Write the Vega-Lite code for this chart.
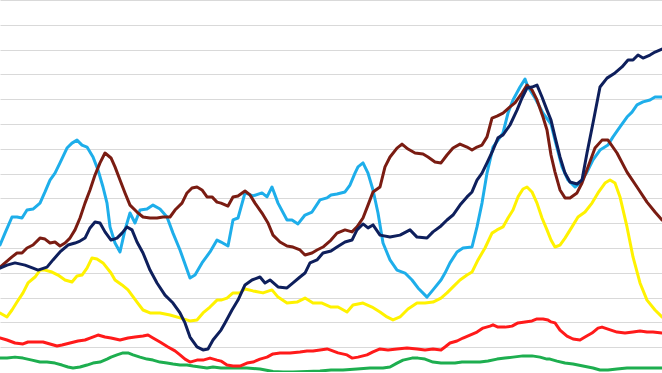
{
"$schema":"https://vega.github.io/schema/vega-lite/v6.json",
"width":662,"height":372,"autosize":{"type":"none"},"padding":0,"background":"white",
"config":{"view":{"stroke":null}},
"data":{"values":[
{"s":"Green","t":0,"v":0.56},{"s":"Green","t":0.7,"v":0.56},{"s":"Green","t":1.5,"v":0.6},{"s":"Green","t":2.3,"v":0.56},{"s":"Green","t":3.2,"v":0.48},{"s":"Green","t":4.0,"v":0.4},{"s":"Green","t":4.7,"v":0.4},{"s":"Green","t":5.5,"v":0.36},{"s":"Green","t":6.2,"v":0.28},{"s":"Green","t":6.8,"v":0.2},{"s":"Green","t":7.3,"v":0.16},{"s":"Green","t":8.0,"v":0.2},{"s":"Green","t":8.7,"v":0.28},{"s":"Green","t":9.3,"v":0.36},{"s":"Green","t":10.0,"v":0.4},{"s":"Green","t":10.7,"v":0.52},{"s":"Green","t":11.1,"v":0.6},{"s":"Green","t":11.7,"v":0.69},{"s":"Green","t":12.3,"v":0.77},{"s":"Green","t":12.8,"v":0.77},{"s":"Green","t":13.3,"v":0.69},{"s":"Green","t":14.0,"v":0.6},{"s":"Green","t":14.7,"v":0.52},{"s":"Green","t":15.3,"v":0.48},{"s":"Green","t":16.0,"v":0.4},{"s":"Green","t":16.7,"v":0.36},{"s":"Green","t":17.3,"v":0.32},{"s":"Green","t":18.0,"v":0.28},{"s":"Green","t":18.7,"v":0.28},{"s":"Green","t":19.3,"v":0.24},{"s":"Green","t":20.0,"v":0.2},{"s":"Green","t":20.7,"v":0.16},{"s":"Green","t":21.3,"v":0.2},{"s":"Green","t":22.1,"v":0.16},{"s":"Green","t":23.3,"v":0.16},{"s":"Green","t":24.7,"v":0.16},{"s":"Green","t":26.0,"v":0.12},{"s":"Green","t":27.3,"v":0.02},{"s":"Green","t":28.3,"v":0.0},{"s":"Green","t":29.3,"v":0.0},{"s":"Green","t":30.7,"v":0.02},{"s":"Green","t":32.0,"v":0.04},{"s":"Green","t":33.1,"v":0.08},{"s":"Green","t":34.3,"v":0.08},{"s":"Green","t":35.7,"v":0.12},{"s":"Green","t":37.0,"v":0.16},{"s":"Green","t":38.3,"v":0.16},{"s":"Green","t":39.0,"v":0.2},{"s":"Green","t":39.7,"v":0.36},{"s":"Green","t":40.3,"v":0.48},{"s":"Green","t":41.2,"v":0.56},{"s":"Green","t":41.8,"v":0.56},{"s":"Green","t":42.5,"v":0.52},{"s":"Green","t":43.3,"v":0.4},{"s":"Green","t":44.1,"v":0.36},{"s":"Green","t":44.7,"v":0.36},{"s":"Green","t":45.5,"v":0.36},{"s":"Green","t":46.2,"v":0.4},{"s":"Green","t":47.0,"v":0.4},{"s":"Green","t":48.0,"v":0.4},{"s":"Green","t":48.8,"v":0.44},{"s":"Green","t":49.7,"v":0.52},{"s":"Green","t":50.5,"v":0.56},{"s":"Green","t":51.3,"v":0.6},{"s":"Green","t":52.3,"v":0.65},{"s":"Green","t":53.2,"v":0.65},{"s":"Green","t":54.0,"v":0.6},{"s":"Green","t":54.7,"v":0.52},{"s":"Green","t":55.0,"v":0.52},{"s":"Green","t":55.7,"v":0.44},{"s":"Green","t":56.5,"v":0.36},{"s":"Green","t":57.3,"v":0.32},{"s":"Green","t":58.3,"v":0.24},{"s":"Green","t":59.3,"v":0.16},{"s":"Green","t":60.0,"v":0.08},{"s":"Green","t":60.8,"v":0.08},{"s":"Green","t":61.7,"v":0.12},{"s":"Green","t":62.7,"v":0.16},{"s":"Green","t":63.7,"v":0.16},{"s":"Green","t":64.7,"v":0.16},{"s":"Green","t":65.5,"v":0.16},{"s":"Green","t":66.2,"v":0.16},
{"s":"Red","t":0,"v":1.37},{"s":"Red","t":0.7,"v":1.29},{"s":"Red","t":1.5,"v":1.17},{"s":"Red","t":2.3,"v":1.13},{"s":"Red","t":2.8,"v":1.21},{"s":"Red","t":3.7,"v":1.21},{"s":"Red","t":4.3,"v":1.21},{"s":"Red","t":5.0,"v":1.13},{"s":"Red","t":5.7,"v":1.05},{"s":"Red","t":6.2,"v":1.09},{"s":"Red","t":7.0,"v":1.17},{"s":"Red","t":7.8,"v":1.25},{"s":"Red","t":8.5,"v":1.29},{"s":"Red","t":9.0,"v":1.37},{"s":"Red","t":9.8,"v":1.49},{"s":"Red","t":10.5,"v":1.41},{"s":"Red","t":11.1,"v":1.37},{"s":"Red","t":12.0,"v":1.29},{"s":"Red","t":12.8,"v":1.37},{"s":"Red","t":13.5,"v":1.41},{"s":"Red","t":14.3,"v":1.45},{"s":"Red","t":14.8,"v":1.49},{"s":"Red","t":15.3,"v":1.37},{"s":"Red","t":16.0,"v":1.21},{"s":"Red","t":16.8,"v":1.01},{"s":"Red","t":17.5,"v":0.85},{"s":"Red","t":18.0,"v":0.69},{"s":"Red","t":18.5,"v":0.52},{"s":"Red","t":19.0,"v":0.4},{"s":"Red","t":19.7,"v":0.48},{"s":"Red","t":20.3,"v":0.48},{"s":"Red","t":21.0,"v":0.56},{"s":"Red","t":21.7,"v":0.48},{"s":"Red","t":22.1,"v":0.44},{"s":"Red","t":22.7,"v":0.28},{"s":"Red","t":23.3,"v":0.24},{"s":"Red","t":24.0,"v":0.24},{"s":"Red","t":24.7,"v":0.36},{"s":"Red","t":25.3,"v":0.4},{"s":"Red","t":26.0,"v":0.52},{"s":"Red","t":26.7,"v":0.6},{"s":"Red","t":27.3,"v":0.73},{"s":"Red","t":28.0,"v":0.77},{"s":"Red","t":29.0,"v":0.77},{"s":"Red","t":30.0,"v":0.81},{"s":"Red","t":30.7,"v":0.85},{"s":"Red","t":31.3,"v":0.85},{"s":"Red","t":32.0,"v":0.89},{"s":"Red","t":32.7,"v":0.93},{"s":"Red","t":33.0,"v":0.89},{"s":"Red","t":33.8,"v":0.77},{"s":"Red","t":34.7,"v":0.69},{"s":"Red","t":35.2,"v":0.56},{"s":"Red","t":35.8,"v":0.6},{"s":"Red","t":36.7,"v":0.69},{"s":"Red","t":37.3,"v":0.81},{"s":"Red","t":38.0,"v":0.93},{"s":"Red","t":38.8,"v":0.89},{"s":"Red","t":39.7,"v":0.93},{"s":"Red","t":40.7,"v":0.97},{"s":"Red","t":41.7,"v":0.93},{"s":"Red","t":42.5,"v":0.89},{"s":"Red","t":43.3,"v":0.93},{"s":"Red","t":44.1,"v":0.89},{"s":"Red","t":44.5,"v":1.01},{"s":"Red","t":45.0,"v":1.17},{"s":"Red","t":45.7,"v":1.25},{"s":"Red","t":46.3,"v":1.37},{"s":"Red","t":47.0,"v":1.49},{"s":"Red","t":47.7,"v":1.61},{"s":"Red","t":48.3,"v":1.77},{"s":"Red","t":49.0,"v":1.85},{"s":"Red","t":49.3,"v":1.9},{"s":"Red","t":49.8,"v":1.81},{"s":"Red","t":50.5,"v":1.81},{"s":"Red","t":51.2,"v":1.85},{"s":"Red","t":51.8,"v":1.98},{"s":"Red","t":52.5,"v":2.02},{"s":"Red","t":53.2,"v":2.06},{"s":"Red","t":53.7,"v":2.14},{"s":"Red","t":54.3,"v":2.14},{"s":"Red","t":54.8,"v":2.1},{"s":"Red","t":55.1,"v":2.02},{"s":"Red","t":55.5,"v":1.98},{"s":"Red","t":56.0,"v":1.69},{"s":"Red","t":56.7,"v":1.45},{"s":"Red","t":57.3,"v":1.33},{"s":"Red","t":58.0,"v":1.29},{"s":"Red","t":58.5,"v":1.41},{"s":"Red","t":59.2,"v":1.57},{"s":"Red","t":59.8,"v":1.77},{"s":"Red","t":60.2,"v":1.81},{"s":"Red","t":60.8,"v":1.73},{"s":"Red","t":61.7,"v":1.61},{"s":"Red","t":62.5,"v":1.57},{"s":"Red","t":63.3,"v":1.61},{"s":"Red","t":64.0,"v":1.65},{"s":"Red","t":64.7,"v":1.61},{"s":"Red","t":65.3,"v":1.61},{"s":"Red","t":66.2,"v":1.57},
{"s":"Yellow","t":0,"v":2.38},{"s":"Yellow","t":0.7,"v":2.22},{"s":"Yellow","t":1.2,"v":2.5},{"s":"Yellow","t":1.7,"v":2.82},{"s":"Yellow","t":2.3,"v":3.19},{"s":"Yellow","t":2.8,"v":3.59},{"s":"Yellow","t":3.5,"v":3.83},{"s":"Yellow","t":4.0,"v":4.11},{"s":"Yellow","t":4.5,"v":4.11},{"s":"Yellow","t":5.2,"v":4.03},{"s":"Yellow","t":5.8,"v":3.91},{"s":"Yellow","t":6.5,"v":3.71},{"s":"Yellow","t":7.2,"v":3.63},{"s":"Yellow","t":7.7,"v":3.87},{"s":"Yellow","t":8.2,"v":3.91},{"s":"Yellow","t":8.7,"v":4.19},{"s":"Yellow","t":9.2,"v":4.6},{"s":"Yellow","t":9.7,"v":4.56},{"s":"Yellow","t":10.3,"v":4.4},{"s":"Yellow","t":11.1,"v":3.99},{"s":"Yellow","t":11.5,"v":3.71},{"s":"Yellow","t":12.2,"v":3.51},{"s":"Yellow","t":12.8,"v":3.31},{"s":"Yellow","t":13.7,"v":2.82},{"s":"Yellow","t":14.3,"v":2.5},{"s":"Yellow","t":15.0,"v":2.38},{"s":"Yellow","t":16.0,"v":2.38},{"s":"Yellow","t":17.0,"v":2.3},{"s":"Yellow","t":18.0,"v":2.18},{"s":"Yellow","t":19.0,"v":2.06},{"s":"Yellow","t":19.7,"v":2.1},{"s":"Yellow","t":20.3,"v":2.38},{"s":"Yellow","t":21.0,"v":2.62},{"s":"Yellow","t":21.7,"v":2.9},{"s":"Yellow","t":22.1,"v":2.9},{"s":"Yellow","t":22.7,"v":2.98},{"s":"Yellow","t":23.3,"v":3.19},{"s":"Yellow","t":24.0,"v":3.19},{"s":"Yellow","t":24.5,"v":3.35},{"s":"Yellow","t":25.3,"v":3.27},{"s":"Yellow","t":26.3,"v":3.19},{"s":"Yellow","t":27.2,"v":3.31},{"s":"Yellow","t":27.8,"v":3.02},{"s":"Yellow","t":28.7,"v":2.78},{"s":"Yellow","t":29.7,"v":2.82},{"s":"Yellow","t":30.5,"v":2.98},{"s":"Yellow","t":31.3,"v":2.78},{"s":"Yellow","t":32.2,"v":2.78},{"s":"Yellow","t":33.1,"v":2.62},{"s":"Yellow","t":33.8,"v":2.62},{"s":"Yellow","t":34.7,"v":2.42},{"s":"Yellow","t":35.3,"v":2.7},{"s":"Yellow","t":36.3,"v":2.78},{"s":"Yellow","t":37.2,"v":2.62},{"s":"Yellow","t":38.0,"v":2.42},{"s":"Yellow","t":38.7,"v":2.22},{"s":"Yellow","t":39.3,"v":2.1},{"s":"Yellow","t":40.0,"v":2.22},{"s":"Yellow","t":40.8,"v":2.54},{"s":"Yellow","t":41.7,"v":2.78},{"s":"Yellow","t":42.5,"v":2.78},{"s":"Yellow","t":43.3,"v":2.82},{"s":"Yellow","t":44.1,"v":2.98},{"s":"Yellow","t":44.7,"v":3.19},{"s":"Yellow","t":45.3,"v":3.43},{"s":"Yellow","t":46.0,"v":3.71},{"s":"Yellow","t":46.7,"v":3.91},{"s":"Yellow","t":47.2,"v":4.03},{"s":"Yellow","t":47.8,"v":4.52},{"s":"Yellow","t":48.5,"v":5.0},{"s":"Yellow","t":49.2,"v":5.6},{"s":"Yellow","t":49.7,"v":5.73},{"s":"Yellow","t":50.3,"v":5.85},{"s":"Yellow","t":50.8,"v":6.21},{"s":"Yellow","t":51.3,"v":6.53},{"s":"Yellow","t":51.8,"v":7.06},{"s":"Yellow","t":52.3,"v":7.38},{"s":"Yellow","t":52.7,"v":7.46},{"s":"Yellow","t":53.2,"v":7.26},{"s":"Yellow","t":53.7,"v":6.81},{"s":"Yellow","t":54.2,"v":6.21},{"s":"Yellow","t":54.7,"v":5.73},{"s":"Yellow","t":55.1,"v":5.32},{"s":"Yellow","t":55.5,"v":5.04},{"s":"Yellow","t":56.0,"v":5.12},{"s":"Yellow","t":56.5,"v":5.4},{"s":"Yellow","t":57.2,"v":5.85},{"s":"Yellow","t":57.8,"v":6.25},{"s":"Yellow","t":58.5,"v":6.45},{"s":"Yellow","t":59.2,"v":6.81},{"s":"Yellow","t":59.8,"v":7.22},{"s":"Yellow","t":60.5,"v":7.62},{"s":"Yellow","t":61.0,"v":7.74},{"s":"Yellow","t":61.5,"v":7.62},{"s":"Yellow","t":62.0,"v":7.06},{"s":"Yellow","t":62.7,"v":5.85},{"s":"Yellow","t":63.3,"v":4.64},{"s":"Yellow","t":64.0,"v":3.59},{"s":"Yellow","t":64.7,"v":2.9},{"s":"Yellow","t":65.5,"v":2.5},{"s":"Yellow","t":66.2,"v":2.22},
{"s":"Light blue","t":0,"v":5.12},{"s":"Light blue","t":0.5,"v":5.6},{"s":"Light blue","t":1.2,"v":6.25},{"s":"Light blue","t":1.7,"v":6.25},{"s":"Light blue","t":2.2,"v":6.21},{"s":"Light blue","t":2.7,"v":6.53},{"s":"Light blue","t":3.3,"v":6.57},{"s":"Light blue","t":4.0,"v":6.81},{"s":"Light blue","t":4.5,"v":7.26},{"s":"Light blue","t":5.0,"v":7.74},{"s":"Light blue","t":5.5,"v":8.02},{"s":"Light blue","t":6.0,"v":8.43},{"s":"Light blue","t":6.7,"v":9.03},{"s":"Light blue","t":7.2,"v":9.23},{"s":"Light blue","t":7.7,"v":9.35},{"s":"Light blue","t":8.2,"v":9.15},{"s":"Light blue","t":8.7,"v":9.07},{"s":"Light blue","t":9.3,"v":8.67},{"s":"Light blue","t":9.8,"v":8.15},{"s":"Light blue","t":10.3,"v":7.46},{"s":"Light blue","t":10.7,"v":6.81},{"s":"Light blue","t":11.0,"v":5.85},{"s":"Light blue","t":11.5,"v":5.2},{"s":"Light blue","t":12.0,"v":4.84},{"s":"Light blue","t":12.5,"v":5.73},{"s":"Light blue","t":13.0,"v":6.41},{"s":"Light blue","t":13.5,"v":6.01},{"s":"Light blue","t":14.0,"v":6.53},{"s":"Light blue","t":14.7,"v":6.57},{"s":"Light blue","t":15.3,"v":6.73},{"s":"Light blue","t":16.0,"v":6.57},{"s":"Light blue","t":16.7,"v":6.25},{"s":"Light blue","t":17.3,"v":5.6},{"s":"Light blue","t":18.0,"v":4.92},{"s":"Light blue","t":19.0,"v":3.79},{"s":"Light blue","t":19.5,"v":3.91},{"s":"Light blue","t":20.2,"v":4.4},{"s":"Light blue","t":21.0,"v":4.84},{"s":"Light blue","t":21.7,"v":5.32},{"s":"Light blue","t":22.1,"v":5.24},{"s":"Light blue","t":22.8,"v":5.08},{"s":"Light blue","t":23.3,"v":6.13},{"s":"Light blue","t":23.8,"v":6.21},{"s":"Light blue","t":24.5,"v":7.22},{"s":"Light blue","t":25.3,"v":7.1},{"s":"Light blue","t":26.2,"v":7.22},{"s":"Light blue","t":26.7,"v":7.06},{"s":"Light blue","t":27.2,"v":7.46},{"s":"Light blue","t":27.8,"v":6.81},{"s":"Light blue","t":28.7,"v":6.13},{"s":"Light blue","t":29.2,"v":6.13},{"s":"Light blue","t":29.8,"v":5.97},{"s":"Light blue","t":30.5,"v":6.33},{"s":"Light blue","t":31.2,"v":6.45},{"s":"Light blue","t":32.0,"v":6.94},{"s":"Light blue","t":32.7,"v":7.02},{"s":"Light blue","t":33.1,"v":7.14},{"s":"Light blue","t":33.7,"v":7.18},{"s":"Light blue","t":34.5,"v":7.26},{"s":"Light blue","t":35.0,"v":7.54},{"s":"Light blue","t":35.5,"v":8.02},{"s":"Light blue","t":35.8,"v":8.27},{"s":"Light blue","t":36.3,"v":8.43},{"s":"Light blue","t":36.8,"v":8.02},{"s":"Light blue","t":37.3,"v":7.34},{"s":"Light blue","t":37.8,"v":6.41},{"s":"Light blue","t":38.3,"v":5.2},{"s":"Light blue","t":39.0,"v":4.52},{"s":"Light blue","t":39.7,"v":4.11},{"s":"Light blue","t":40.5,"v":3.99},{"s":"Light blue","t":41.2,"v":3.71},{"s":"Light blue","t":41.8,"v":3.39},{"s":"Light blue","t":42.7,"v":3.02},{"s":"Light blue","t":43.3,"v":3.31},{"s":"Light blue","t":44.1,"v":3.71},{"s":"Light blue","t":44.5,"v":3.99},{"s":"Light blue","t":45.0,"v":4.4},{"s":"Light blue","t":45.7,"v":4.84},{"s":"Light blue","t":46.3,"v":5.0},{"s":"Light blue","t":47.2,"v":5.04},{"s":"Light blue","t":47.7,"v":5.85},{"s":"Light blue","t":48.2,"v":6.81},{"s":"Light blue","t":48.7,"v":8.02},{"s":"Light blue","t":49.3,"v":9.07},{"s":"Light blue","t":49.8,"v":9.35},{"s":"Light blue","t":50.3,"v":9.64},{"s":"Light blue","t":50.8,"v":10.44},{"s":"Light blue","t":51.3,"v":10.97},{"s":"Light blue","t":52.0,"v":11.49},{"s":"Light blue","t":52.5,"v":11.81},{"s":"Light blue","t":52.8,"v":11.49},{"s":"Light blue","t":53.5,"v":11.05},{"s":"Light blue","t":54.3,"v":10.44},{"s":"Light blue","t":55.1,"v":10.0},{"s":"Light blue","t":55.5,"v":9.35},{"s":"Light blue","t":56.2,"v":8.27},{"s":"Light blue","t":56.8,"v":7.74},{"s":"Light blue","t":57.5,"v":7.46},{"s":"Light blue","t":58.0,"v":7.62},{"s":"Light blue","t":58.7,"v":8.06},{"s":"Light blue","t":59.3,"v":8.55},{"s":"Light blue","t":60.0,"v":8.95},{"s":"Light blue","t":60.8,"v":9.15},{"s":"Light blue","t":61.3,"v":9.48},{"s":"Light blue","t":62.0,"v":9.88},{"s":"Light blue","t":62.7,"v":10.28},{"s":"Light blue","t":63.2,"v":10.48},{"s":"Light blue","t":63.7,"v":10.77},{"s":"Light blue","t":64.3,"v":10.89},{"s":"Light blue","t":65.0,"v":10.97},{"s":"Light blue","t":65.5,"v":11.09},{"s":"Light blue","t":66.2,"v":11.09},
{"s":"Dark red","t":0,"v":4.23},{"s":"Dark red","t":0.5,"v":4.4},{"s":"Dark red","t":1.2,"v":4.64},{"s":"Dark red","t":1.7,"v":4.8},{"s":"Dark red","t":2.2,"v":4.8},{"s":"Dark red","t":2.7,"v":5.0},{"s":"Dark red","t":3.3,"v":5.12},{"s":"Dark red","t":4.0,"v":5.4},{"s":"Dark red","t":4.5,"v":5.36},{"s":"Dark red","t":5.0,"v":5.2},{"s":"Dark red","t":5.5,"v":5.24},{"s":"Dark red","t":6.0,"v":5.08},{"s":"Dark red","t":6.5,"v":5.2},{"s":"Dark red","t":7.0,"v":5.4},{"s":"Dark red","t":7.5,"v":5.73},{"s":"Dark red","t":8.0,"v":6.21},{"s":"Dark red","t":8.5,"v":6.81},{"s":"Dark red","t":9.0,"v":7.34},{"s":"Dark red","t":9.5,"v":7.94},{"s":"Dark red","t":10.0,"v":8.43},{"s":"Dark red","t":10.5,"v":8.83},{"s":"Dark red","t":11.1,"v":8.63},{"s":"Dark red","t":11.5,"v":8.27},{"s":"Dark red","t":12.0,"v":7.74},{"s":"Dark red","t":12.5,"v":7.22},{"s":"Dark red","t":13.0,"v":6.73},{"s":"Dark red","t":13.7,"v":6.45},{"s":"Dark red","t":14.3,"v":6.25},{"s":"Dark red","t":15.0,"v":6.21},{"s":"Dark red","t":15.7,"v":6.21},{"s":"Dark red","t":16.3,"v":6.25},{"s":"Dark red","t":17.0,"v":6.25},{"s":"Dark red","t":17.5,"v":6.53},{"s":"Dark red","t":18.2,"v":6.81},{"s":"Dark red","t":18.7,"v":7.22},{"s":"Dark red","t":19.2,"v":7.42},{"s":"Dark red","t":19.7,"v":7.46},{"s":"Dark red","t":20.2,"v":7.34},{"s":"Dark red","t":20.7,"v":7.06},{"s":"Dark red","t":21.2,"v":7.06},{"s":"Dark red","t":21.7,"v":6.85},{"s":"Dark red","t":22.1,"v":6.81},{"s":"Dark red","t":22.8,"v":6.69},{"s":"Dark red","t":23.3,"v":7.06},{"s":"Dark red","t":23.8,"v":7.1},{"s":"Dark red","t":24.5,"v":7.3},{"s":"Dark red","t":25.0,"v":7.14},{"s":"Dark red","t":25.5,"v":6.81},{"s":"Dark red","t":26.2,"v":6.41},{"s":"Dark red","t":26.8,"v":6.01},{"s":"Dark red","t":27.3,"v":5.52},{"s":"Dark red","t":28.0,"v":5.24},{"s":"Dark red","t":28.7,"v":5.08},{"s":"Dark red","t":29.3,"v":5.04},{"s":"Dark red","t":30.0,"v":4.92},{"s":"Dark red","t":30.5,"v":4.72},{"s":"Dark red","t":31.2,"v":4.8},{"s":"Dark red","t":31.7,"v":4.92},{"s":"Dark red","t":32.3,"v":5.04},{"s":"Dark red","t":33.1,"v":5.32},{"s":"Dark red","t":33.7,"v":5.6},{"s":"Dark red","t":34.5,"v":5.73},{"s":"Dark red","t":35.2,"v":5.65},{"s":"Dark red","t":35.7,"v":5.85},{"s":"Dark red","t":36.3,"v":6.21},{"s":"Dark red","t":36.8,"v":6.73},{"s":"Dark red","t":37.3,"v":7.26},{"s":"Dark red","t":38.0,"v":7.46},{"s":"Dark red","t":38.5,"v":8.27},{"s":"Dark red","t":39.0,"v":8.67},{"s":"Dark red","t":39.7,"v":9.03},{"s":"Dark red","t":40.2,"v":9.19},{"s":"Dark red","t":40.8,"v":8.99},{"s":"Dark red","t":41.5,"v":8.83},{"s":"Dark red","t":42.3,"v":8.79},{"s":"Dark red","t":42.8,"v":8.67},{"s":"Dark red","t":43.5,"v":8.47},{"s":"Dark red","t":44.1,"v":8.43},{"s":"Dark red","t":44.7,"v":8.75},{"s":"Dark red","t":45.3,"v":9.03},{"s":"Dark red","t":46.0,"v":9.19},{"s":"Dark red","t":46.7,"v":9.07},{"s":"Dark red","t":47.2,"v":8.95},{"s":"Dark red","t":47.7,"v":9.07},{"s":"Dark red","t":48.2,"v":9.15},{"s":"Dark red","t":48.7,"v":9.48},{"s":"Dark red","t":49.2,"v":10.24},{"s":"Dark red","t":49.7,"v":10.32},{"s":"Dark red","t":50.3,"v":10.44},{"s":"Dark red","t":51.0,"v":10.69},{"s":"Dark red","t":51.5,"v":10.85},{"s":"Dark red","t":52.2,"v":11.25},{"s":"Dark red","t":52.7,"v":11.57},{"s":"Dark red","t":53.2,"v":11.37},{"s":"Dark red","t":53.7,"v":10.97},{"s":"Dark red","t":54.3,"v":10.28},{"s":"Dark red","t":54.7,"v":9.76},{"s":"Dark red","t":55.1,"v":8.75},{"s":"Dark red","t":55.5,"v":8.06},{"s":"Dark red","t":56.0,"v":7.34},{"s":"Dark red","t":56.5,"v":7.02},{"s":"Dark red","t":57.0,"v":7.02},{"s":"Dark red","t":57.7,"v":7.22},{"s":"Dark red","t":58.2,"v":7.62},{"s":"Dark red","t":58.8,"v":8.27},{"s":"Dark red","t":59.5,"v":9.03},{"s":"Dark red","t":60.2,"v":9.35},{"s":"Dark red","t":60.8,"v":9.35},{"s":"Dark red","t":61.7,"v":8.83},{"s":"Dark red","t":62.7,"v":8.06},{"s":"Dark red","t":63.7,"v":7.46},{"s":"Dark red","t":64.7,"v":6.85},{"s":"Dark red","t":65.5,"v":6.45},{"s":"Dark red","t":66.2,"v":6.13},
{"s":"Dark blue","t":0,"v":4.19},{"s":"Dark blue","t":0.7,"v":4.31},{"s":"Dark blue","t":1.5,"v":4.4},{"s":"Dark blue","t":2.5,"v":4.31},{"s":"Dark blue","t":3.3,"v":4.19},{"s":"Dark blue","t":3.8,"v":4.11},{"s":"Dark blue","t":4.7,"v":4.23},{"s":"Dark blue","t":5.3,"v":4.52},{"s":"Dark blue","t":6.0,"v":4.84},{"s":"Dark blue","t":6.8,"v":5.12},{"s":"Dark blue","t":7.5,"v":5.2},{"s":"Dark blue","t":8.0,"v":5.28},{"s":"Dark blue","t":8.5,"v":5.4},{"s":"Dark blue","t":9.0,"v":5.81},{"s":"Dark blue","t":9.5,"v":6.05},{"s":"Dark blue","t":10.0,"v":6.01},{"s":"Dark blue","t":10.5,"v":5.65},{"s":"Dark blue","t":11.1,"v":5.32},{"s":"Dark blue","t":11.7,"v":5.4},{"s":"Dark blue","t":12.2,"v":5.6},{"s":"Dark blue","t":12.7,"v":5.85},{"s":"Dark blue","t":13.2,"v":5.73},{"s":"Dark blue","t":13.7,"v":5.24},{"s":"Dark blue","t":14.3,"v":4.8},{"s":"Dark blue","t":15.0,"v":4.11},{"s":"Dark blue","t":15.7,"v":3.59},{"s":"Dark blue","t":16.5,"v":3.1},{"s":"Dark blue","t":17.3,"v":2.78},{"s":"Dark blue","t":18.0,"v":2.38},{"s":"Dark blue","t":18.5,"v":1.98},{"s":"Dark blue","t":19.0,"v":1.41},{"s":"Dark blue","t":19.7,"v":1.01},{"s":"Dark blue","t":20.3,"v":0.89},{"s":"Dark blue","t":20.8,"v":0.93},{"s":"Dark blue","t":21.3,"v":1.29},{"s":"Dark blue","t":22.1,"v":1.69},{"s":"Dark blue","t":22.5,"v":1.98},{"s":"Dark blue","t":23.2,"v":2.5},{"s":"Dark blue","t":23.8,"v":2.9},{"s":"Dark blue","t":24.5,"v":3.51},{"s":"Dark blue","t":25.2,"v":3.71},{"s":"Dark blue","t":26.0,"v":3.83},{"s":"Dark blue","t":26.5,"v":3.59},{"s":"Dark blue","t":27.0,"v":3.71},{"s":"Dark blue","t":27.8,"v":3.43},{"s":"Dark blue","t":28.7,"v":3.39},{"s":"Dark blue","t":29.3,"v":3.59},{"s":"Dark blue","t":30.0,"v":3.83},{"s":"Dark blue","t":30.5,"v":3.99},{"s":"Dark blue","t":31.0,"v":4.4},{"s":"Dark blue","t":31.7,"v":4.52},{"s":"Dark blue","t":32.3,"v":4.8},{"s":"Dark blue","t":33.1,"v":4.88},{"s":"Dark blue","t":33.7,"v":5.04},{"s":"Dark blue","t":34.5,"v":5.24},{"s":"Dark blue","t":35.2,"v":5.32},{"s":"Dark blue","t":35.7,"v":5.73},{"s":"Dark blue","t":36.3,"v":5.97},{"s":"Dark blue","t":36.8,"v":5.81},{"s":"Dark blue","t":37.3,"v":5.93},{"s":"Dark blue","t":38.0,"v":5.52},{"s":"Dark blue","t":39.0,"v":5.44},{"s":"Dark blue","t":40.0,"v":5.52},{"s":"Dark blue","t":41.0,"v":5.73},{"s":"Dark blue","t":41.7,"v":5.44},{"s":"Dark blue","t":42.7,"v":5.4},{"s":"Dark blue","t":43.3,"v":5.65},{"s":"Dark blue","t":44.1,"v":5.89},{"s":"Dark blue","t":44.7,"v":6.13},{"s":"Dark blue","t":45.3,"v":6.33},{"s":"Dark blue","t":46.0,"v":6.73},{"s":"Dark blue","t":46.7,"v":7.06},{"s":"Dark blue","t":47.2,"v":7.26},{"s":"Dark blue","t":47.7,"v":7.74},{"s":"Dark blue","t":48.2,"v":8.02},{"s":"Dark blue","t":48.7,"v":8.43},{"s":"Dark blue","t":49.3,"v":8.95},{"s":"Dark blue","t":49.8,"v":9.44},{"s":"Dark blue","t":50.3,"v":9.56},{"s":"Dark blue","t":51.0,"v":9.96},{"s":"Dark blue","t":51.7,"v":10.56},{"s":"Dark blue","t":52.2,"v":11.05},{"s":"Dark blue","t":52.7,"v":11.45},{"s":"Dark blue","t":53.2,"v":11.49},{"s":"Dark blue","t":53.7,"v":11.57},{"s":"Dark blue","t":54.2,"v":11.09},{"s":"Dark blue","t":54.7,"v":10.56},{"s":"Dark blue","t":55.1,"v":10.16},{"s":"Dark blue","t":55.5,"v":9.48},{"s":"Dark blue","t":56.0,"v":8.67},{"s":"Dark blue","t":56.5,"v":8.02},{"s":"Dark blue","t":57.0,"v":7.66},{"s":"Dark blue","t":57.7,"v":7.58},{"s":"Dark blue","t":58.2,"v":7.74},{"s":"Dark blue","t":58.7,"v":8.83},{"s":"Dark blue","t":59.3,"v":10.04},{"s":"Dark blue","t":60.0,"v":11.49},{"s":"Dark blue","t":60.7,"v":11.85},{"s":"Dark blue","t":61.5,"v":12.06},{"s":"Dark blue","t":62.2,"v":12.3},{"s":"Dark blue","t":62.8,"v":12.58},{"s":"Dark blue","t":63.3,"v":12.58},{"s":"Dark blue","t":63.8,"v":12.78},{"s":"Dark blue","t":64.3,"v":12.66},{"s":"Dark blue","t":65.0,"v":12.78},{"s":"Dark blue","t":65.5,"v":12.9},{"s":"Dark blue","t":66.2,"v":13.02}
]},
"mark":{"type":"line","strokeWidth":3,"strokeJoin":"round","strokeCap":"round","clip":false},
"encoding":{
"x":{"field":"t","type":"quantitative","scale":{"domain":[0,66.2],"nice":false,"zero":false},"axis":null},
"y":{"field":"v","type":"quantitative","scale":{"domain":[0,15],"nice":false},"axis":{"values":[0,1,2,3,4,5,6,7,8,9,10,11,12,13,14,15],"grid":true,"gridColor":"#D9D9D9","gridWidth":1,"labels":false,"ticks":false,"domain":false,"title":null}},
"color":{"field":"s","type":"nominal","legend":null,"sort":["Green","Red","Yellow","Light blue","Dark red","Dark blue"],"scale":{"domain":["Green","Red","Yellow","Light blue","Dark red","Dark blue"],"range":["#1DAE4F","#FF1A1A","#FFF200","#1EAEEA","#7A1C12","#0E1F5C"]}},
"order":{"field":"t","type":"quantitative"}
}
}
